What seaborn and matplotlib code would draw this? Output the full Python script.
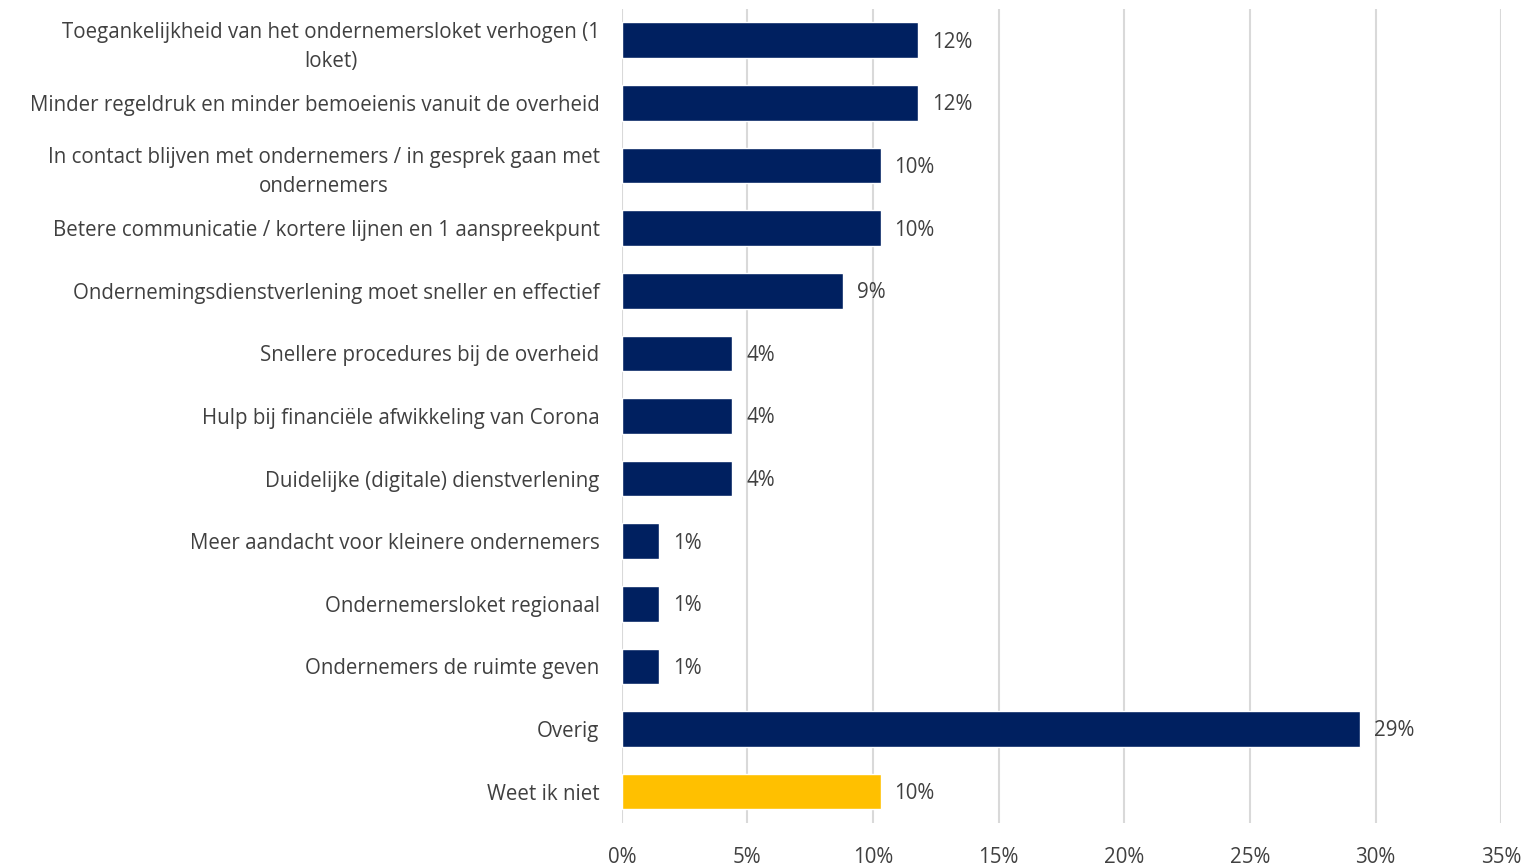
import matplotlib.pyplot as plt
import pandas as pd
import seaborn as sns

categories = [
    "Toegankelijkheid van het ondernemersloket verhogen (1\nloket)",
    "Minder regeldruk en minder bemoeienis vanuit de overheid",
    "In contact blijven met ondernemers / in gesprek gaan met\nondernemers",
    "Betere communicatie / kortere lijnen en 1 aanspreekpunt",
    "Ondernemingsdienstverlening moet sneller en effectief",
    "Snellere procedures bij de overheid",
    "Hulp bij financiële afwikkeling van Corona",
    "Duidelijke (digitale) dienstverlening",
    "Meer aandacht voor kleinere ondernemers",
    "Ondernemersloket regionaal",
    "Ondernemers de ruimte geven",
    "Overig",
    "Weet ik niet",
]
values = [11.8, 11.8, 10.3, 10.3, 8.8, 4.4, 4.4, 4.4, 1.5, 1.5, 1.5, 29.4, 10.3]
labels = ["12%", "12%", "10%", "10%", "9%", "4%", "4%", "4%", "1%", "1%", "1%", "29%", "10%"]
colors = ["#002060"] * 12 + ["#FFC000"]

df = pd.DataFrame({"cat": categories, "val": values})

sns.set_style("white")
plt.rcParams["font.family"] = ["Open Sans", "DejaVu Sans"]
txt = "#404040"
fs = 14.8

fig = plt.figure(figsize=(15.24, 8.65), dpi=100)
ax = fig.add_axes([0.408, 0.0486, 0.577, 0.941])
sns.barplot(data=df, x="val", y="cat", hue="cat", palette=colors, legend=False,
            width=0.57, saturation=1, ax=ax)

for i, (v, lab) in enumerate(zip(values, labels)):
    ax.text(v + 0.55, i + 0.03, lab, va="center", ha="left", fontsize=fs, color=txt)

ax.set_xlim(0, 35)
ax.set_xticks(range(0, 36, 5))
ax.set_xticklabels([f"{t}%" for t in range(0, 36, 5)])
ax.xaxis.grid(True, color="#d9d9d9", linewidth=1.5)
ax.set_axisbelow(True)
ax.set_xlabel("")
ax.set_ylabel("")
for s in ax.spines.values():
    s.set_visible(False)
ax.tick_params(axis="x", length=0, pad=17, labelsize=fs, labelcolor=txt)
ax.tick_params(axis="y", length=0, pad=16, labelsize=fs, labelcolor=txt)
for t in ax.get_yticklabels():
    t.set_multialignment("center")
    t.set_linespacing(1.5)

fig.savefig("out.png", dpi=100)
